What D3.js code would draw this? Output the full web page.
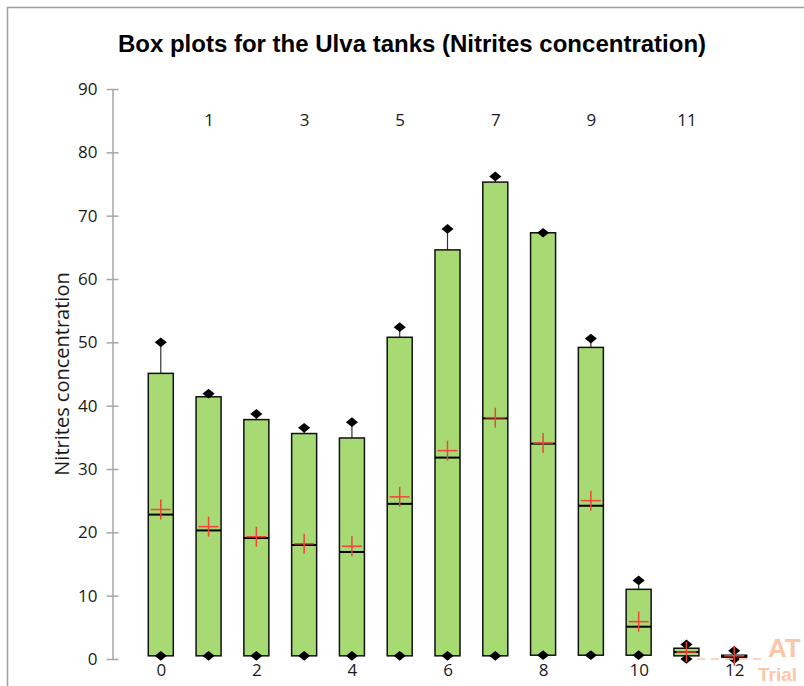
<!DOCTYPE html>
<meta charset="utf-8">
<style>
body { margin: 0; background: #fff; }
svg { display: block; }
</style>
<body>
<script src="https://d3js.org/d3.v7.min.js"></script>
<script>

// tanks and their box plot stats
var tanks   = [0, 1, 2, 3, 4, 5, 6, 7, 8, 9, 10, 11, 12];
var mins    = [0.5, 0.5, 0.5, 0.5, 0.5, 0.5, 0.5, 0.5, 0.6, 0.6, 0.6, 0.0, 0.0];
var q1s     = [0.5, 0.5, 0.5, 0.5, 0.5, 0.5, 0.5, 0.5, 0.6, 0.6, 0.6, 0.5, 0.3];
var medians = [22.8, 20.3, 19.1, 18.0, 16.9, 24.5, 31.8, 38.0, 34.0, 24.2, 5.1, 1.1, 0.4];
var q3s     = [45.1, 41.4, 37.8, 35.6, 34.9, 50.8, 64.6, 75.3, 67.3, 49.2, 11.0, 1.7, 0.6];
var maxs    = [50.0, 41.9, 38.7, 36.5, 37.4, 52.4, 67.9, 76.2, 67.3, 50.6, 12.4, 2.3, 1.3];
var means   = [23.6, 20.9, 19.3, 18.2, 17.8, 25.6, 32.9, 38.1, 34.1, 25.0, 5.9, 1.1, 0.5];
var yTicks  = [0, 10, 20, 30, 40, 50, 60, 70, 80, 90];

var W = 804, H = 686;

var svg = d3.select("body").append("svg")
    .attr("width", W)
    .attr("height", H);

// chart area border (only top and left edges show)
svg.append("rect")
    .attr("x", 7.5).attr("y", 7.5)
    .attr("width", 900).attr("height", 900)
    .attr("fill", "none")
    .attr("stroke", "#a0a0a0")
    .attr("stroke-width", 1.5);

// scales
var x = d3.scaleLinear().domain([-1, 13]).range([113, 782]);
var y = d3.scaleLinear().domain([0, 90]).range([659, 89]);
var boxW = 25;

// title
svg.append("text")
    .attr("x", 412).attr("y", 52)
    .attr("text-anchor", "middle")
    .style("font-family", "'Liberation Sans', Arial, sans-serif")
    .style("font-weight", "bold")
    .style("font-size", "24px")
    .text("Box plots for the Ulva tanks (Nitrites concentration)");

// y axis label
svg.append("text")
    .attr("transform", "translate(69,374) rotate(-90)")
    .attr("text-anchor", "middle")
    .style("font-family", "'Open Sans', sans-serif")
    .style("font-size", "20px")
    .style("fill", "#1a1a1a")
    .text("Nitrites concentration");

function styleTicks(sel) {
  sel.selectAll(".tick text")
      .style("font-family", "'Open Sans', sans-serif")
      .style("font-size", "17px")
      .style("fill", "#1a1a1a");
}

// y axis
var yAxis = svg.append("g")
    .attr("transform", "translate(112.5,0)")
    .call(d3.axisLeft(y).tickValues(yTicks).tickSize(5).tickSizeOuter(0));
yAxis.select(".domain").attr("stroke", "#a6a6a6").attr("stroke-width", 1.5);
yAxis.selectAll(".tick line").attr("stroke", "#a6a6a6").attr("stroke-width", 1.5).attr("x2", 6).attr("x1", -6);
yAxis.selectAll(".tick text").attr("x", -15);
styleTicks(yAxis);

// category labels, even ones below, odd ones on top
var xb = svg.append("g")
    .attr("transform", "translate(0,659)")
    .call(d3.axisBottom(x).tickValues(tanks.filter(function(d) { return d % 2 == 0; })).tickSize(0).tickPadding(5));
xb.select(".domain").remove();
styleTicks(xb);

var xt = svg.append("g")
    .attr("transform", "translate(0,89)")
    .call(d3.axisBottom(x).tickValues(tanks.filter(function(d) { return d % 2 == 1; })).tickSize(0).tickPadding(25));
xt.select(".domain").remove();
styleTicks(xt);

var data = tanks.map(function(t, i) {
  return { t: t, min: mins[i], q1: q1s[i], med: medians[i], q3: q3s[i], max: maxs[i], mean: means[i] };
});

var g = svg.selectAll(".box").data(data).enter().append("g").attr("class", "box");

// upper whisker
g.append("line")
    .attr("x1", function(d) { return x(d.t); })
    .attr("x2", function(d) { return x(d.t); })
    .attr("y1", function(d) { return y(d.q3); })
    .attr("y2", function(d) { return y(d.max); })
    .attr("stroke", "#333")
    .attr("stroke-width", 1.2);

// box
g.append("rect")
    .attr("x", function(d) { return x(d.t) - boxW / 2; })
    .attr("y", function(d) { return y(d.q3); })
    .attr("width", boxW)
    .attr("height", function(d) { return Math.max(y(d.q1) - y(d.q3), 1); })
    .attr("fill", "#a8da74")
    .attr("stroke", "#111")
    .attr("stroke-width", 1.5);

// median
g.append("line")
    .attr("x1", function(d) { return x(d.t) - boxW / 2; })
    .attr("x2", function(d) { return x(d.t) + boxW / 2; })
    .attr("y1", function(d) { return y(d.med); })
    .attr("y2", function(d) { return y(d.med); })
    .attr("stroke", "#000")
    .attr("stroke-width", 2);

// min / max diamonds
var diamond = d3.symbol().type(d3.symbolDiamond2).size(60);
["min", "max"].forEach(function(k) {
  g.append("path")
      .attr("d", diamond)
      .attr("transform", function(d) { return "translate(" + x(d.t) + "," + y(d[k]) + ") scale(1.25,1)"; })
      .attr("fill", "#000");
});

// mean cross
g.append("line")
    .attr("x1", function(d) { return x(d.t) - 10; })
    .attr("x2", function(d) { return x(d.t) + 10; })
    .attr("y1", function(d) { return y(d.mean); })
    .attr("y2", function(d) { return y(d.mean); })
    .attr("stroke", "#f0443a")
    .attr("stroke-width", 1.5);
g.append("line")
    .attr("x1", function(d) { return x(d.t); })
    .attr("x2", function(d) { return x(d.t); })
    .attr("y1", function(d) { return y(d.mean) - 10; })
    .attr("y2", function(d) { return y(d.mean) + 10; })
    .attr("stroke", "#f0443a")
    .attr("stroke-width", 1.5);

// trial watermark at the edge
var wm = svg.append("g").style("fill", "#fbc7a8")
    .style("font-family", "'Liberation Sans', Arial, sans-serif")
    .style("font-weight", "bold");
wm.append("line")
    .attr("x1", 697).attr("x2", 766).attr("y1", 659).attr("y2", 659)
    .attr("stroke", "#fbc7a8").attr("stroke-width", 1.5)
    .attr("stroke-dasharray", "8,6");
wm.append("text").attr("x", 768).attr("y", 657).style("font-size", "26px").text("AT");
wm.append("text").attr("x", 758).attr("y", 681).style("font-size", "19px").text("Trial");

</script>
</body>
